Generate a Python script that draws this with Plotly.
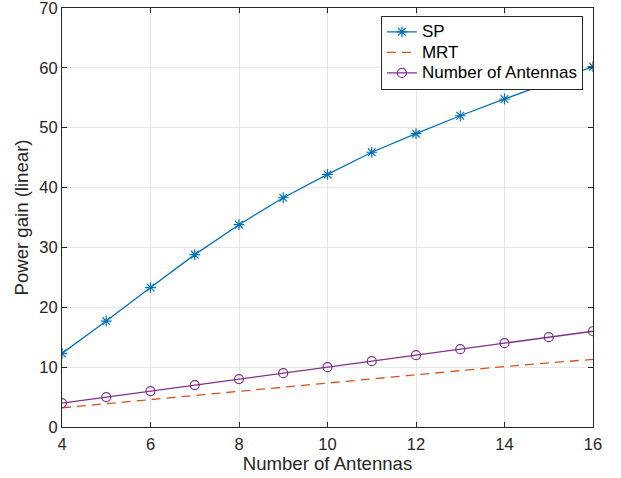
import plotly.graph_objects as go

antennas = [4, 5, 6, 7, 8, 9, 10, 11, 12, 13, 14, 15, 16]
sp_gain = [12.3, 17.7, 23.3, 28.8, 33.8, 38.3, 42.2, 45.9, 49.0, 52.0, 54.8, 57.5, 60.2]
mrt_gain = [3.2, 3.9, 4.6, 5.3, 6.0, 6.7, 7.4, 8.1, 8.7, 9.4, 10.1, 10.7, 11.3]
num_antennas = [4, 5, 6, 7, 8, 9, 10, 11, 12, 13, 14, 15, 16]
series_names = ["SP", "MRT", "Number of Antennas"]

x_ticks = [4, 6, 8, 10, 12, 14, 16]
y_ticks = [0, 10, 20, 30, 40, 50, 60, 70]

FONT = "Liberation Sans, Arial, Helvetica"


def legend_label(s):
    return '<span style="font-size:17px">' + s + '</span>'


fig = go.Figure()
fig.add_trace(go.Scatter(x=antennas, y=sp_gain, name=legend_label(series_names[0]), mode="lines+markers",
                         line=dict(color="#0072BD", width=1.3),
                         marker=dict(symbol="asterisk-open", size=9, color="#0072BD",
                                     line=dict(color="#0072BD", width=1.2))))
fig.add_trace(go.Scatter(x=antennas, y=mrt_gain, name=legend_label(series_names[1]), mode="lines",
                         line=dict(color="#D95319", width=1.3, dash="9px,6px")))
fig.add_trace(go.Scatter(x=antennas, y=num_antennas, name=legend_label(series_names[2]), mode="lines+markers",
                         line=dict(color="#7E2F8E", width=1.3),
                         marker=dict(symbol="circle-open", size=9, color="#7E2F8E",
                                     line=dict(color="#7E2F8E", width=1.2))))

axis_common = dict(showline=True, linecolor="#262626", linewidth=1, mirror="ticks",
                   ticks="inside", ticklen=5, tickcolor="#262626",
                   showgrid=True, gridcolor="#E6E6E6", gridwidth=1, zeroline=False,
                   automargin=False, ticklabeloverflow="allow",
                   tickfont=dict(family=FONT, size=16.5, color="#262626"))

fig.update_layout(
    width=621, height=478,
    margin=dict(l=62, r=28, t=8, b=51),
    paper_bgcolor="white", plot_bgcolor="white",
    font=dict(family=FONT, color="#262626"),
    xaxis=dict(range=[4, 16], tickvals=x_ticks, ticklabelstandoff=2,
               title=dict(text="Number of Antennas", font=dict(size=18.6), standoff=4),
               **axis_common),
    yaxis=dict(range=[0, 70], tickvals=y_ticks, ticklabelstandoff=0,
               title=dict(text="Power gain (linear)", font=dict(size=18.6), standoff=5),
               **axis_common),
    legend=dict(x=0.981, y=0.982, xanchor="right", yanchor="top",
                bgcolor="white", bordercolor="#262626", borderwidth=1,
                font=dict(family=FONT, size=13.5, color="black"), tracegroupgap=0,
                itemwidth=30),
    showlegend=True,
)

fig.write_html("out.html", config={"displayModeBar": False},
               post_script="document.body.style.margin='0';document.body.style.overflow='hidden';")
